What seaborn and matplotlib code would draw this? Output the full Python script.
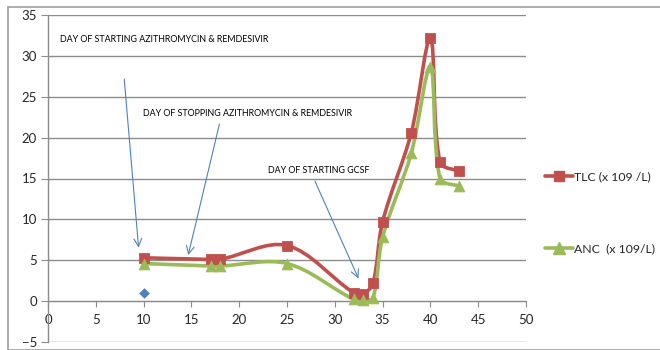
import numpy as np
import matplotlib
matplotlib.use("Agg")
import matplotlib.pyplot as plt
from matplotlib.path import Path
from matplotlib.patches import PathPatch, Rectangle
from matplotlib.lines import Line2D
import seaborn as sns

days = [10, 17, 18, 25, 32, 33, 34, 35, 38, 40, 41, 43]
tlc = [5.3, 5.1, 5.1, 6.8, 1.0, 0.9, 2.2, 9.7, 20.6, 32.2, 17.0, 15.9]
anc = [4.6, 4.3, 4.3, 4.6, 0.2, 0.1, 0.4, 7.8, 18.1, 28.7, 15.0, 14.1]
extra_x = [10]
extra_y = [1]
tlc_label = "TLC (x 109 /L)"
anc_label = "ANC  (x 109/L)"
notes = ["DAY OF STARTING AZITHROMYCIN & REMDESIVIR",
         "DAY OF STOPPING AZITHROMYCIN & REMDESIVIR",
         "DAY OF STARTING GCSF"]

RED = "#C0504D"
GREEN = "#9BBB59"
BLUE = "#4F81BD"

sns.set_style("white")
plt.rcParams['font.family'] = ['Lato', 'DejaVu Sans']


def smooth(xs, ys, sx=9.56, sy=8.18):
    # excel style smoothed line: bezier through the points,
    # tangents weighted by segment length (on screen) to limit overshoot
    p = np.column_stack([xs, ys]).astype(float)
    n = len(p)
    sc = np.array([sx, sy])
    seg = [np.hypot(*((p[i + 1] - p[i]) * sc)) for i in range(n - 1)]
    tang = []
    for i in range(n):
        a = p[i - 1] if i > 0 else p[i]
        b = p[i + 1] if i < n - 1 else p[i]
        tang.append(b - a)
    verts = [p[0]]
    codes = [Path.MOVETO]
    for i in range(n - 1):
        lin = seg[i - 1] if i > 0 else seg[i]
        lout = seg[i + 1] if i + 1 < n - 1 else seg[i]
        c1 = p[i] + tang[i] * (seg[i] / (lin + seg[i])) / 3
        c2 = p[i + 1] - tang[i + 1] * (seg[i] / (seg[i] + lout)) / 3
        verts += [c1, c2, p[i + 1]]
        codes += [Path.CURVE4] * 3
    return Path(verts, codes)


fig = plt.figure(figsize=(6.6, 3.5), dpi=100)
ax = fig.add_axes([48 / 660, 1 - 342 / 350, (526 - 48) / 660, (342 - 15) / 350])

for ys, col in [(tlc, RED), (anc, GREEN)]:
    ax.add_patch(PathPatch(smooth(days, ys), facecolor='none', edgecolor=col, lw=2.6, zorder=3))

sns.scatterplot(x=days, y=tlc, marker='s', s=55, color=RED, edgecolor=RED, ax=ax, zorder=4)
sns.scatterplot(x=days, y=anc, marker='^', s=60, color=GREEN, edgecolor=GREEN, ax=ax, zorder=4)
sns.scatterplot(x=extra_x, y=extra_y, marker='D', s=25, color=BLUE, edgecolor=BLUE, ax=ax, zorder=4)

ax.set_xlim(0, 50)
ax.set_ylim(-5, 35)
ax.set_xticks(range(0, 51, 5))
ax.set_yticks(range(-5, 36, 5))
ax.grid(axis='y', color='#8c8c8c', lw=1)
ax.set_axisbelow(True)
for s in ['top', 'right']:
    ax.spines[s].set_visible(False)
ax.spines['left'].set_color('#8c8c8c')
ax.spines['left'].set_linewidth(1)
ax.tick_params(axis='y', length=5, color='#8c8c8c', labelsize=9.5, pad=3, left=True)
ax.tick_params(axis='x', length=4, color='#8c8c8c', labelsize=9.5, pad=5, bottom=True)

# x axis crossing at zero
ax.spines['bottom'].set_position(('data', 0))
ax.spines['bottom'].set_color('#8c8c8c')

# annotations
ax.annotate('', xy=(9.5, 6.2), xytext=(7.95, 27.5),
            arrowprops=dict(arrowstyle='->', color=BLUE, lw=0.8, mutation_scale=14))
ax.annotate('', xy=(14.6, 5.3), xytext=(18.0, 22.0),
            arrowprops=dict(arrowstyle='->', color=BLUE, lw=0.8, mutation_scale=14))
ax.annotate('', xy=(32.6, 2.45), xytext=(27.8, 15.0),
            arrowprops=dict(arrowstyle='->', color=BLUE, lw=0.8, mutation_scale=14))
ax.text(1.25, 32.0, notes[0], fontsize=6.4, va='center', ha='left', color='black')
ax.text(9.9, 23.0, notes[1], fontsize=6.4, va='center', ha='left', color='black')
ax.text(23.0, 16.0, notes[2], fontsize=6.4, va='center', ha='left', color='black')

handles = [Line2D([], [], color=RED, lw=2.6, marker='s', markersize=7),
           Line2D([], [], color=GREEN, lw=2.6, marker='^', markersize=8)]
fig.legend(handles, [tlc_label, anc_label], loc='upper left', bbox_to_anchor=(540 / 660, 1 - 166 / 350),
           frameon=False, fontsize=8.8, handlelength=2.3, handletextpad=0.1, labelspacing=5.0,
           borderaxespad=0)

fig.patches.append(Rectangle((8 / 660, 0), 1, 1 - 7 / 350, transform=fig.transFigure,
                             fill=False, edgecolor='#a0a0a0', lw=1.2))

fig.savefig('out.png', dpi=100)
